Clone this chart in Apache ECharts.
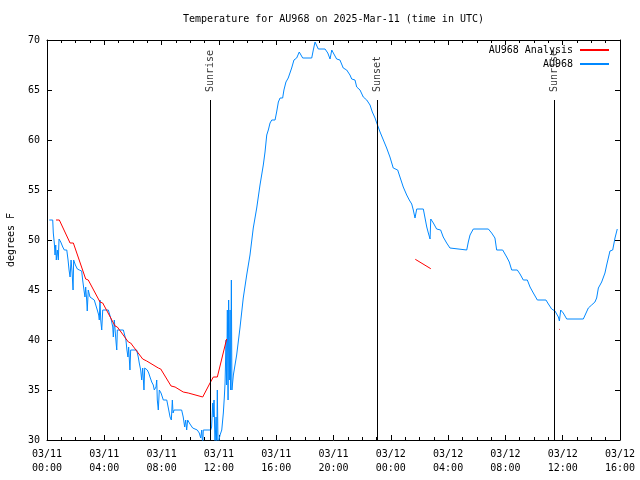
<!DOCTYPE html>
<html>
<head>
<meta charset="utf-8">
<script src="https://cdn.jsdelivr.net/npm/echarts@6/dist/echarts.min.js"></script>
<style>html,body{margin:0;padding:0;background:#fff}#c{width:640px;height:480px}</style>
</head>
<body>
<div id="c"></div>
<script>
// Hours since 03/11 00:00 UTC and temperatures (degrees F)
const blueHours = [0.16,0.40,0.44,0.51,0.56,0.61,0.65,0.72,0.79,0.84,0.96,1.10,1.21,1.38,1.47,1.54,1.61,1.68,1.75,1.82,1.86,1.98,2.12,2.26,2.42,2.49,2.58,2.65,2.70,2.77,2.81,2.88,3.00,3.12,3.30,3.42,3.51,3.61,3.65,3.70,3.75,3.82,3.89,4.28,4.40,4.49,4.59,4.63,4.70,4.77,4.82,4.87,4.91,5.33,5.45,5.51,5.58,5.65,5.70,5.75,5.79,5.84,6.26,6.37,6.44,6.54,6.61,6.68,6.77,6.82,7.00,7.10,7.19,7.31,7.42,7.49,7.61,7.66,7.70,7.77,7.84,7.96,8.12,8.36,8.47,8.59,8.68,8.75,8.80,8.87,9.40,9.51,9.61,9.68,9.75,9.82,9.98,10.17,10.26,10.49,10.63,10.73,10.80,10.87,10.91,11.43,11.49,11.57,11.61,11.66,11.73,11.80,11.85,11.89,11.94,12.08,12.20,12.31,12.38,12.43,12.50,12.54,12.59,12.64,12.68,12.73,12.78,12.82,12.87,12.91,13.01,13.24,13.47,13.70,13.94,14.17,14.40,14.64,14.87,15.10,15.22,15.34,15.45,15.57,15.69,15.92,16.03,16.15,16.27,16.45,16.54,16.68,16.84,16.96,17.08,17.24,17.43,17.61,17.73,17.85,18.48,18.59,18.71,18.83,18.94,19.41,19.60,19.76,19.88,19.99,20.22,20.45,20.68,20.92,21.15,21.27,21.50,21.62,21.85,22.08,22.32,22.55,22.71,22.90,23.02,23.25,23.48,23.71,23.94,24.17,24.48,24.64,24.87,25.11,25.29,25.46,25.57,25.69,25.81,26.27,26.39,26.51,26.62,26.74,26.79,26.97,27.20,27.48,27.66,27.90,28.13,28.25,29.30,29.41,29.53,29.76,30.81,31.04,31.27,31.39,31.81,32.09,32.27,32.44,32.83,33.02,33.25,33.53,33.72,33.95,34.23,34.83,35.00,35.23,35.46,35.58,35.70,35.77,35.86,36.04,36.28,37.44,37.63,37.79,38.02,38.25,38.37,38.49,38.72,38.95,39.07,39.30,39.49,39.65,39.81];
const blueTemps = [52,52,50.7,49.7,48.5,49.5,48,49,48,50.1,49.8,49.3,49,49,48,47,46.3,48,46.8,45,48,47.5,47.1,47,46.9,46,45,44.3,45.3,44,42.9,45,44.3,44.1,44,44,43,42.5,42,44,42,41,43,43,43,42,41.3,40.3,42,40.7,39.8,39,41,41,41,40,39,38.3,39.3,38,37,39,39,38.3,37.7,37,36,37.2,35,37.2,37,36.7,36.3,35.8,35.5,35,35.3,36,34,33,35,34.7,34,34,33.2,32.3,32,34,32.7,33,33,32.3,31.3,32,31,32,31.6,31.2,31,31,30.7,30.2,31,29.5,31,31,31.3,33.7,32.3,34,29.5,32.3,29.5,35,29.5,30.5,31,32.7,34.3,35.7,40,35.5,43,34,44,36,43,35,46,35,36.5,38.5,41.2,44.2,46.5,48.5,51.2,53.2,55.5,57.5,58.8,60.5,61,61.7,62,62,62.8,63.8,64.2,64.2,65,65.8,66.2,66.7,67.2,68,68.2,68.8,69,68.2,68.2,69,69.8,70,69.1,69.1,68.7,68.1,69,68.7,68.1,68,67.2,67,66.5,66.1,66,65.3,65,64.3,64,63.5,62.8,62.2,61.7,60.8,60,59.2,58.3,57.2,57,56.3,55.3,54.5,54,53.6,53,52.2,53.1,53.1,52.2,51.3,50.7,50.1,52.1,51.7,51.1,51,50.3,49.7,49.2,49,49,49.8,50.5,51.1,51.1,50.7,50.2,49,49,48.3,47.8,47,47,46.6,46,46,45.3,44.7,44,44,43.6,43.1,42.9,42.6,42.3,41.9,43,42.7,42.1,42.1,42.7,43.2,43.5,43.8,44.2,45.2,45.8,46.7,47.5,48.9,49,50.2,51.1];

const redHours = [0.63,0.86,1.61,1.84,2.70,2.88,3.70,3.89,4.75,4.91,5.68,5.84,6.68,6.96,7.77,7.94,8.66,8.94,9.51,9.86,10.87,11.38,11.61,11.89,12.54,19.0,25.71,26.79,31.0,35.74,35.79];
const redTemps = [52,52,49.7,49.7,46.1,46,43.8,43.7,41.4,41.3,39.8,39.7,38.1,37.9,37.2,37.1,35.4,35.3,34.8,34.7,34.3,35.7,36.3,36.3,40.1,null,48.07,47.13,null,41.1,41.05];

const eventHours = [11.43, 23.06, 35.41];
const eventNames = ['Sunrise', 'Sunset', 'Sunrise'];
const eventTop = 64;

const xTickStep = 4;   // hours between labelled ticks
const yTicks = [30,35,40,45,50,55,60,65,70];

const titleText = 'Temperature for AU968 on 2025-Mar-11 (time in UTC)';
const yName = 'degrees F';
const redName = 'AU968 Analysis';
const blueName = 'AU968';

const FONT = '"DejaVu Sans Mono", "Liberation Mono", monospace';
const blue = '#0088ff';
const red = '#ff0000';

function pad(n){ return (n < 10 ? '0' : '') + n; }
function fmtHour(h){
  const day = 11 + Math.floor(h / 24);
  const hh = Math.round(h) % 24;
  return '03/' + pad(day) + '\n' + pad(hh) + ':00';
}

const chart = echarts.init(document.getElementById('c'), null, {renderer: 'canvas'});

const axisCommon = {
  type: 'value',
  axisLine: {show: true, onZero: false, lineStyle: {color: '#000', width: 1}},
  splitLine: {show: false},
};

const legendCommon = {
  right: 30, align: 'right', orient: 'horizontal', itemWidth: 29, itemHeight: 12, padding: 0,
  itemStyle: {opacity: 0},
  textStyle: {fontFamily: FONT, fontSize: 10, color: '#000', padding: [0, 2, 0, 0]},
  selectedMode: false
};

const option = {
  animation: false,
  backgroundColor: '#fff',
  grid: {left: 47, right: 20, top: 40, bottom: 40, containLabel: false, outerBoundsMode: 'none'},
  graphic: [{
    type: 'text', x: 333.5, y: 19,
    style: {text: titleText, align: 'center', verticalAlign: 'middle', font: '10px ' + FONT, fill: '#000'}
  }],
  legend: [
    Object.assign({}, legendCommon, {data: [redName], top: 45}),
    Object.assign({}, legendCommon, {data: [blueName], top: 59})
  ],
  xAxis: [
    Object.assign({}, axisCommon, {
      position: 'bottom', min: 0, max: 40, interval: xTickStep,
      axisTick: {show: true, inside: true, length: 5, lineStyle: {color: '#000'}},
      minorTick: {show: true, splitNumber: 4, length: 3, lineStyle: {color: '#000'}},
      axisLabel: {show: true, formatter: fmtHour, fontFamily: FONT, fontSize: 10, color: '#000', lineHeight: 14, margin: 7, showMinLabel: true, showMaxLabel: true}
    }),
    Object.assign({}, axisCommon, {
      position: 'top', min: 0, max: 40, interval: xTickStep,
      axisTick: {show: true, inside: true, length: 5, lineStyle: {color: '#000'}},
      minorTick: {show: true, splitNumber: 4, length: 3, lineStyle: {color: '#000'}},
      axisLabel: {show: false}
    })
  ],
  yAxis: [
    Object.assign({}, axisCommon, {
      position: 'left', min: yTicks[0], max: yTicks[yTicks.length - 1], interval: 5,
      name: yName, nameLocation: 'middle', nameRotate: 90, nameGap: 31,
      nameTextStyle: {fontFamily: FONT, fontSize: 10, color: '#000'},
      axisTick: {show: true, inside: true, length: 5, lineStyle: {color: '#000'}},
      axisLabel: {show: true, fontFamily: FONT, fontSize: 10, color: '#000', margin: 7}
    }),
    Object.assign({}, axisCommon, {
      position: 'right', min: yTicks[0], max: yTicks[yTicks.length - 1], interval: 5,
      axisTick: {show: true, inside: true, length: 5, lineStyle: {color: '#000'}},
      axisLabel: {show: false}
    })
  ],
  series: [
    {
      name: redName, type: 'line', xAxisIndex: 0, yAxisIndex: 0,
      data: redHours.map((h, i) => [h, redTemps[i] == null ? '-' : redTemps[i]]),
      symbol: 'none', showSymbol: false, connectNulls: false,
      lineStyle: {color: red, width: 1}, itemStyle: {color: red}, z: 3
    },
    {
      name: blueName, type: 'line', xAxisIndex: 0, yAxisIndex: 0,
      data: blueHours.map((h, i) => [h, blueTemps[i]]),
      symbol: 'none', showSymbol: false,
      lineStyle: {color: blue, width: 1}, itemStyle: {color: blue}, z: 2
    },
    {
      name: 'events', type: 'scatter', xAxisIndex: 0, yAxisIndex: 0,
      data: eventHours.map((h, i) => [h, eventTop, eventNames[i]]),
      symbolSize: 0, silent: true, z: 4,
      label: {show: true, formatter: p => p.data[2], position: 'top', distance: 8, rotate: 90,
              align: 'left', verticalAlign: 'middle', fontFamily: FONT, fontSize: 10, color: '#000'},
      markLine: {
        silent: true, symbol: ['none', 'none'], animation: false,
        label: {show: false},
        lineStyle: {color: '#000', width: 1, type: 'solid'},
        data: eventHours.map(h => [{coord: [h, yTicks[0]]}, {coord: [h, eventTop]}])
      }
    }
  ]
};
chart.setOption(option);
</script>
</body>
</html>
